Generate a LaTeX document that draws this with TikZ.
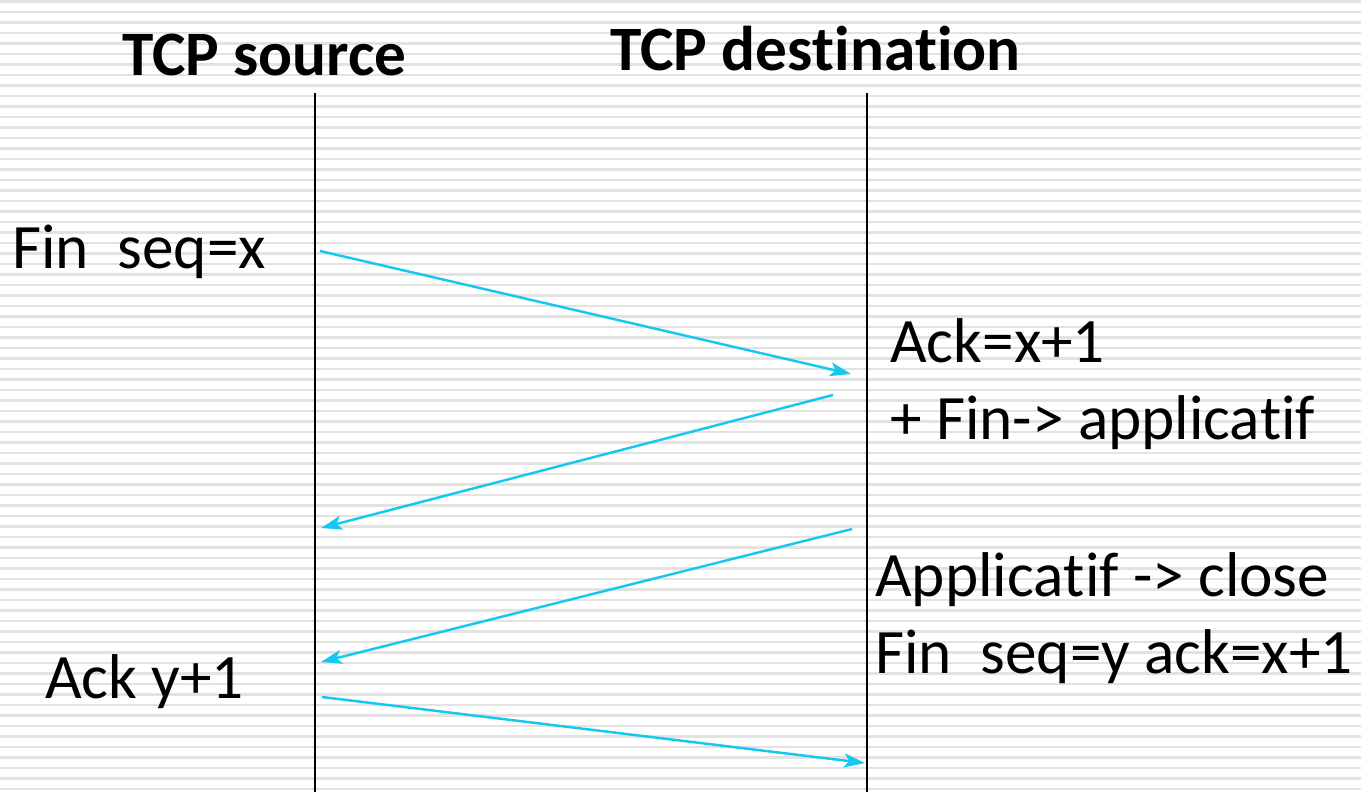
\documentclass[tikz,border=0pt]{standalone}
\usepackage{fontspec}
\setmainfont[RawFeature={-liga;-clig;-dlig;-calt}]{Carlito}
\usetikzlibrary{arrows.meta}

\definecolor{msgblue}{RGB}{20,200,240}
\definecolor{stripegray}{RGB}{226,226,226}

\tikzset{
  lbl/.style={anchor=base west,inner sep=0pt,font=\fontsize{36}{40}\selectfont},
  head/.style={anchor=base west,inner sep=0pt,font=\fontsize{36}{40}\selectfont\bfseries},
  msg/.style={msgblue,line width=1.4pt,-{Stealth[length=12pt,width=8pt,inset=3pt]}},
  lifeline/.style={black,line width=1.2pt}
}
% keeps t-i and f-i apart
\newcommand{\nl}{\kern0pt\relax}

\begin{document}
\begin{tikzpicture}[x=0.02cm,y=-0.02cm]
    \useasboundingbox (0,0) rectangle (1361,792);
    % striped backdrop
    \foreach \i in {0,...,75} \fill[stripegray]
    (0,{\i*10.5}) rectangle (1361,{\i*10.5+2.6});

    % headings
    \node[head] (src) at (122,75) {TCP source};
    \node[head] (dst) at (610,70) {TCP des\nl t\nl ina\nl t\nl ion};

    % lifelines
    \coordinate (srctop) at (315,93); \coordinate (srcbot) at (315,792);
    \coordinate (dsttop) at (867,93); \coordinate (dstbot) at (867,792);
    \draw[lifeline] (srctop) -- (srcbot);
    \draw[lifeline] (dsttop) -- (dstbot);

    % message end points
    \coordinate (a1) at (320,251); \coordinate (b1) at (851,374);
    \coordinate (b2) at (833,395); \coordinate (a2) at (321,528);
    \coordinate (b3) at (852,529); \coordinate (a3) at (321,662);
    \coordinate (a4) at (322,697); \coordinate (b4) at (865,763);

    \draw[msg] (a1) -- (b1);
    \draw[msg] (b2) -- (a2);
    \draw[msg] (b3) -- (a3);
    \draw[msg] (a4) -- (b4);

    % labels
    \node[lbl] (finx) at (12,268) {Fin\ \ seq=x};
    \node[lbl] (ackx) at (890,362) {Ack=x+1};
    \node[lbl] (appl) at (890,439) {+ Fin-> applica\nl t\nl i\nl f};
    \node[lbl] (close) at (875,596) {Applica\nl t\nl i\nl f -> close};
    \node[lbl] (finy) at (875,673) {Fin\ \ seq=y ack=x+1};
    \node[lbl] (acky) at (45,698) {Ack y+1};

  \end{tikzpicture}
\end{document}
